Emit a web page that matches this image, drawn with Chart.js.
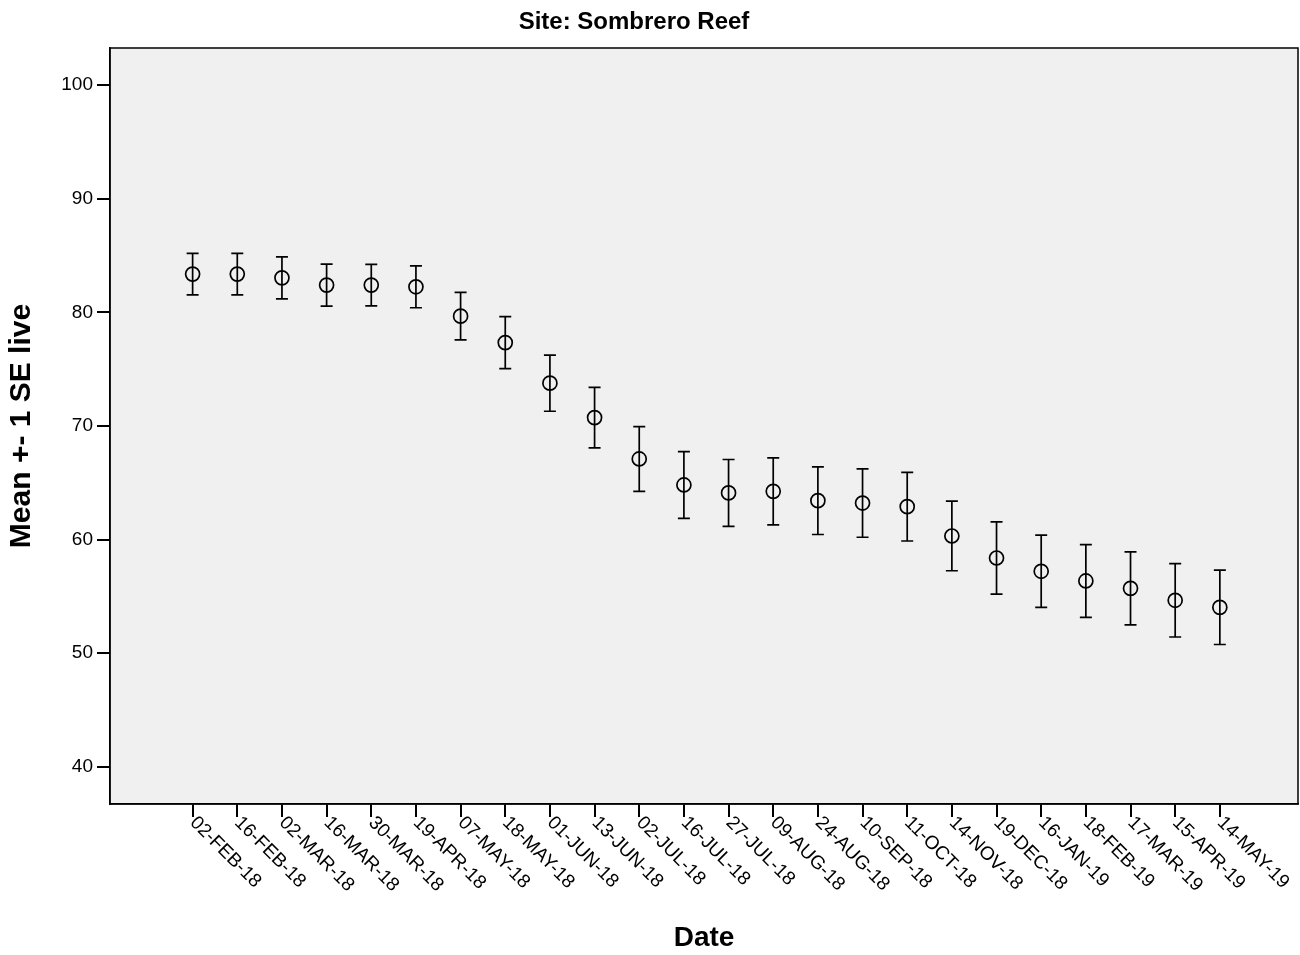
<!DOCTYPE html>
<html>
<head>
<meta charset="utf-8">
<script src="https://cdn.jsdelivr.net/npm/chart.js@4"></script>
<style>
  body { margin: 0; background: #fff; }
</style>
</head>
<body>
<canvas id="seChart" width="1300" height="955"></canvas>
<script>
const siteTitle = "Site: Sombrero Reef";
const dates = ["02-FEB-18", "16-FEB-18", "02-MAR-18", "16-MAR-18", "30-MAR-18", "19-APR-18",
  "07-MAY-18", "18-MAY-18", "01-JUN-18", "13-JUN-18", "02-JUL-18", "16-JUL-18",
  "27-JUL-18", "09-AUG-18", "24-AUG-18", "10-SEP-18", "11-OCT-18", "14-NOV-18",
  "19-DEC-18", "16-JAN-19", "18-FEB-19", "17-MAR-19", "15-APR-19", "14-MAY-19"];
const meanLive = [83.36, 83.36, 83.03, 82.39, 82.39, 82.24, 79.66, 77.33, 73.76, 70.73, 67.09, 64.80,
  64.10, 64.24, 63.42, 63.21, 62.89, 60.31, 58.37, 57.20, 56.35, 55.70, 54.65, 54.03];
const seLive = [1.83, 1.83, 1.85, 1.85, 1.83, 1.84, 2.09, 2.29, 2.47, 2.66, 2.85, 2.94,
  2.94, 2.95, 2.98, 3.01, 3.02, 3.06, 3.18, 3.18, 3.20, 3.21, 3.23, 3.27];
const yTicks = [40, 50, 60, 70, 80, 90, 100];

const FONT = "'Liberation Sans', Arial, sans-serif";

// grey plot box, error bars, rotated date labels and the chart title
const spssLook = {
  id: "spssLook",
  beforeDraw(chart) {
    const { ctx, chartArea: a } = chart;
    ctx.save();
    ctx.fillStyle = "#f0f0f0";
    ctx.fillRect(a.left, a.top, a.right - a.left, a.bottom - a.top);
    ctx.restore();
  },
  beforeDatasetsDraw(chart) {
    const { ctx, scales: { x, y } } = chart;
    ctx.save();
    ctx.strokeStyle = "#000";
    ctx.lineWidth = 1.7;
    meanLive.forEach((m, i) => {
      const px = x.getPixelForValue(i);
      const top = y.getPixelForValue(m + seLive[i]);
      const bot = y.getPixelForValue(m - seLive[i]);
      ctx.beginPath();
      ctx.moveTo(px, top); ctx.lineTo(px, bot);
      ctx.moveTo(px - 6, top); ctx.lineTo(px + 6, top);
      ctx.moveTo(px - 6, bot); ctx.lineTo(px + 6, bot);
      ctx.stroke();
    });
    ctx.restore();
  },
  afterDraw(chart) {
    const { ctx, chartArea: a, scales: { x } } = chart;
    ctx.save();
    ctx.strokeStyle = "#000";
    ctx.lineWidth = 1.5;
    ctx.strokeRect(a.left, a.top, a.right - a.left, a.bottom - a.top);

    ctx.fillStyle = "#000";
    ctx.font = "19px " + FONT;
    ctx.textAlign = "left";
    ctx.textBaseline = "top";
    dates.forEach((d, i) => {
      ctx.save();
      ctx.translate(x.getPixelForValue(i) + 7, a.bottom + 9);
      ctx.rotate(Math.PI / 4);
      ctx.fillText(d, 0, 0);
      ctx.restore();
    });

    ctx.font = "bold 24px " + FONT;
    ctx.textAlign = "center";
    ctx.textBaseline = "middle";
    ctx.fillText(siteTitle, 634, 22);
    ctx.restore();
  }
};

new Chart(document.getElementById("seChart").getContext("2d"), {
  type: "scatter",
  data: {
    datasets: [{
      label: "Mean live",
      data: meanLive.map((m, i) => ({ x: i, y: m })),
      showLine: false,
      pointStyle: "circle",
      pointRadius: 7,
      pointHoverRadius: 7,
      pointBorderWidth: 1.7,
      pointBorderColor: "#000",
      pointBackgroundColor: "rgba(0,0,0,0)"
    }]
  },
  options: {
    responsive: false,
    animation: false,
    layout: { autoPadding: false, padding: { top: 48, right: 2, left: 0, bottom: 0 } },
    plugins: {
      legend: { display: false },
      tooltip: { enabled: false }
    },
    scales: {
      x: {
        type: "linear",
        min: -1.85,
        max: 24.75,
        afterBuildTicks: s => { s.ticks = dates.map((d, i) => ({ value: i })); },
        afterFit: s => { s.height = 151; },
        ticks: { display: false },
        grid: { drawOnChartArea: false, drawTicks: true, tickLength: 13, color: "#000", lineWidth: 2 },
        border: { display: true, color: "#000", width: 1.5 },
        title: {
          display: true,
          text: "Date",
          color: "#000",
          font: { family: FONT, size: 28, weight: "bold" },
          padding: { top: 0, bottom: 0 }
        }
      },
      y: {
        min: 36.72,
        max: 103.26,
        afterBuildTicks: s => { s.ticks = yTicks.map(v => ({ value: v })); },
        afterFit: s => { s.width = 110; },
        ticks: { color: "#000", font: { family: FONT, size: 19 }, padding: 4 },
        grid: { drawOnChartArea: false, drawTicks: true, tickLength: 13, color: "#000", lineWidth: 2 },
        border: { display: true, color: "#000", width: 1.5 },
        title: {
          display: true,
          text: "Mean +- 1 SE live",
          color: "#000",
          font: { family: FONT, size: 30, weight: "bold" },
          padding: { top: 4, bottom: 0 }
        }
      }
    }
  },
  plugins: [spssLook]
});
</script>
</body>
</html>
